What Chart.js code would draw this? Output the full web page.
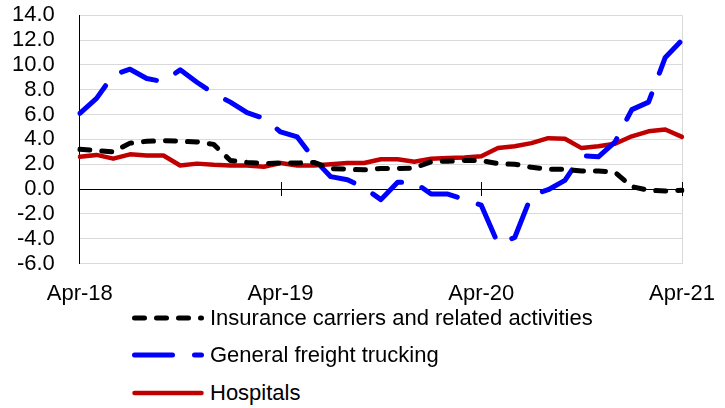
<!DOCTYPE html>
<html>
<head>
<meta charset="utf-8">
<script src="https://cdn.jsdelivr.net/npm/chart.js@4"></script>
<style>
body { margin: 0; background: #fff; }
#wrap { position: relative; width: 725px; height: 408px; }
#legend { position: absolute; left: 0; top: 0; font-family: "Liberation Sans", Arial, sans-serif; font-size: 22px; color: #000; }
.row { position: absolute; left: 130px; height: 26px; line-height: 26px; white-space: nowrap; }
.row svg { position: absolute; left: 0; top: 7px; }
.row span { position: absolute; left: 80px; top: 0; }
</style>
</head>
<body>
<div id="wrap">
<canvas id="myChart" width="725" height="309"></canvas>
<div id="legend"></div>
</div>
<script>
var months = ["Apr-18","May-18","Jun-18","Jul-18","Aug-18","Sep-18","Oct-18","Nov-18","Dec-18","Jan-19","Feb-19","Mar-19",
  "Apr-19","May-19","Jun-19","Jul-19","Aug-19","Sep-19","Oct-19","Nov-19","Dec-19","Jan-20","Feb-20","Mar-20",
  "Apr-20","May-20","Jun-20","Jul-20","Aug-20","Sep-20","Oct-20","Nov-20","Dec-20","Jan-21","Feb-21","Mar-21","Apr-21"]

var insurance = [3.2,3.1,3.0,3.7,3.85,3.9,3.85,3.8,3.6,2.3,2.15,2.05,
  2.1,2.1,2.15,1.65,1.6,1.55,1.65,1.65,1.7,2.2,2.25,2.3,
  2.3,2.05,2.0,1.75,1.6,1.6,1.45,1.45,1.35,0.2,-0.1,-0.15,-0.1]
var trucking = [6.1,7.3,9.2,9.65,8.9,8.65,9.6,8.6,7.7,7.0,6.15,5.7,
  4.6,4.2,2.4,1.0,0.75,0.1,-0.85,0.55,0.55,-0.4,-0.4,-0.85,
  -1.3,-4.4,-3.9,-0.5,-0.05,0.7,2.7,2.6,3.8,6.4,7.0,10.6,12.0]
var hospitals = [2.6,2.75,2.45,2.8,2.7,2.7,1.9,2.05,1.95,1.9,1.9,1.8,
  2.1,1.9,1.9,2.0,2.1,2.1,2.4,2.4,2.2,2.45,2.5,2.55,
  2.65,3.3,3.45,3.7,4.1,4.05,3.3,3.45,3.65,4.25,4.65,4.8,4.2]

var names = ["Insurance carriers and related activities","General freight trucking","Hospitals"]
var colors = ["#000000","#0000FF","#C00000"]
var dashes = [[10,12],[38,22],[]]
var widths = [5,5,4.5]

// zero line with tick marks + grey right border
var zeroAxis = {
  id: "zeroAxis",
  beforeDatasetsDraw: function(chart){
    var ctx = chart.ctx
    var x = chart.scales.x
    var y = chart.scales.y
    var y0 = y.getPixelForValue(0)
    ctx.save()
    ctx.strokeStyle = "#d9d9d9"
    ctx.lineWidth = 1
    ctx.beginPath()
    ctx.moveTo(x.right+0.5, y.top)
    ctx.lineTo(x.right+0.5, y.bottom)
    ctx.stroke()
    ctx.strokeStyle = "#000"
    ctx.beginPath()
    ctx.moveTo(x.left, Math.round(y0)+0.5)
    ctx.lineTo(x.right, Math.round(y0)+0.5)
    for(var i=12;i<months.length;i+=12){
      var px = Math.round(x.getPixelForValue(i))+0.5
      ctx.moveTo(px, y0-7)
      ctx.lineTo(px, y0+7)
    }
    ctx.stroke()
    ctx.restore()
  }
}

Chart.defaults.font.family = "'Liberation Sans', Arial, sans-serif"
Chart.defaults.font.size = 22
Chart.defaults.color = "#000"

var sets = [insurance, trucking, hospitals].map(function(d,i){
  return {
    label: names[i],
    data: d,
    borderColor: colors[i],
    backgroundColor: colors[i],
    borderWidth: widths[i],
    borderDash: dashes[i],
    borderCapStyle: "round",
    borderJoinStyle: "round",
    pointRadius: 0,
    tension: 0,
    fill: false
  }
})

new Chart("myChart", {
  type: "line",
  data: { labels: months, datasets: sets },
  plugins: [zeroAxis],
  options: {
    responsive: false,
    animation: false,
    layout: { padding: { left: 10, right: 43, top: 0, bottom: 0 } },
    plugins: { legend: { display: false }, tooltip: { enabled: false } },
    scales: {
      x: {
        offset: false,
        grid: { display: false, drawTicks: true, tickLength: 15, tickColor: "transparent" },
        border: { color: "#d9d9d9" },
        ticks: {
          autoSkip: false, maxRotation: 0, padding: 2,
          callback: function(v, i){ return i % 12 === 0 ? months[i] : "" }
        }
      },
      y: {
        min: -6, max: 14,
        grid: { color: "#d9d9d9", drawTicks: true, tickLength: 23, tickColor: "transparent" },
        border: { color: "#000" },
        ticks: { autoSkip: false, stepSize: 2, padding: 2, callback: function(v){ return v.toFixed(1) } }
      }
    }
  }
})

// legend rows under the chart
var rowY = [305, 342, 380]
var html = ""
for(var i=0;i<names.length;i++){
  html += '<div class="row" style="top:'+rowY[i]+'px"><svg width="78" height="12">' +
    '<line x1="4.5" y1="6" x2="71.5" y2="6" stroke="'+colors[i]+'" stroke-width="'+widths[i]+'" stroke-linecap="round"' +
    (dashes[i].length ? ' stroke-dasharray="'+dashes[i].join(" ")+'"' : '') + '/></svg><span>'+names[i]+'</span></div>'
}
document.getElementById("legend").innerHTML = html
</script>
</body>
</html>
